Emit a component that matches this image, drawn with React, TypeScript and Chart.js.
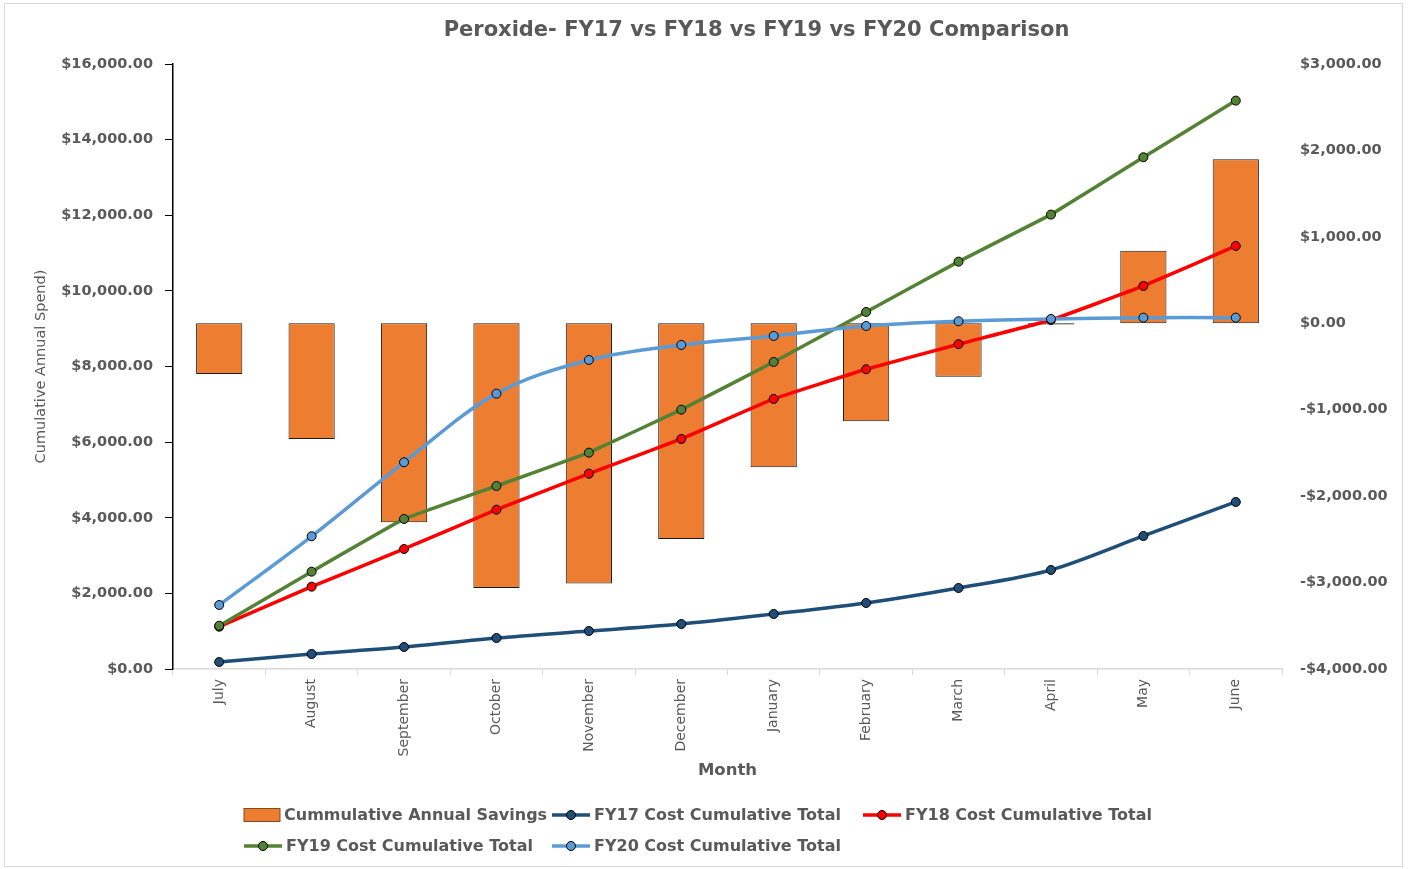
import React, { useEffect, useRef } from "react";
import { Chart, registerables } from "chart.js";

Chart.register(...registerables);

const TITLE = "Peroxide- FY17 vs FY18 vs FY19 vs FY20 Comparison";
const Y_TITLE = "Cumulative Annual Spend)";
const X_TITLE = "Month";

const months = [
  "July", "August", "September", "October", "November", "December",
  "January", "February", "March", "April", "May", "June",
];
const savings = [-587, -1339, -2303, -3064, -3012, -2497, -1667, -1134, -618, -15, 840, 1898];
const fy17 = [185, 397, 582, 820, 1005, 1190, 1455, 1746, 2142, 2619, 3518, 4417];
const fy18 = [1119, 2177, 3174, 4214, 5166, 6084, 7142, 7927, 8590, 9230, 10130, 11188];
const fy19 = [1145, 2574, 3968, 4840, 5721, 6859, 8120, 9443, 10773, 12017, 13534, 15032];
const fy20 = [1693, 3510, 5467, 7282, 8173, 8570, 8808, 9072, 9197, 9257, 9292, 9292];

const leftTicks = [0, 2000, 4000, 6000, 8000, 10000, 12000, 14000, 16000];
const rightTicks = [-4000, -3000, -2000, -1000, 0, 1000, 2000, 3000];

const seriesNames = [
  "Cummulative Annual Savings",
  "FY17 Cost Cumulative Total",
  "FY18 Cost Cumulative Total",
  "FY19 Cost Cumulative Total",
  "FY20 Cost Cumulative Total",
];
const seriesColors = ["#ED7D31", "#1F4E79", "#FF0000", "#548235", "#5B9BD5"];

const FONT = "'DejaVu Sans'";
const TEXT = "#595959";

const money = (v: number) => {
  const s = Math.abs(v).toLocaleString("en-US", { minimumFractionDigits: 2, maximumFractionDigits: 2 });
  return (v < 0 ? "-$" : "$") + s;
};

const titlePlugin = {
  id: "customTitle",
  afterDraw(chart: any) {
    const { ctx, chartArea } = chart;
    ctx.save();
    ctx.font = `bold 21px ${FONT}`;
    ctx.fillStyle = TEXT;
    ctx.textAlign = "center";
    ctx.textBaseline = "middle";
    ctx.fillText(TITLE, (chartArea.left + chartArea.right) / 2 + 29, 27);
    ctx.restore();
  },
};

function LegendIcon({ index }: { index: number }) {
  const c = seriesColors[index];
  if (index === 0) {
    return (
      <svg width="38" height="16" style={{ display: "block" }}>
        <rect x="1" y="1.5" width="36" height="13" fill={c} stroke="#7f4a25" strokeWidth="1" />
      </svg>
    );
  }
  return (
    <svg width="40" height="16" style={{ display: "block" }}>
      <line x1="1" y1="8" x2="39" y2="8" stroke={c} strokeWidth="3.5" />
      <circle cx="20" cy="8" r="4.5" fill={c} stroke="#000" strokeWidth="1" />
    </svg>
  );
}

export default function App() {
  const canvasRef = useRef<HTMLCanvasElement | null>(null);

  useEffect(() => {
    if (!canvasRef.current) return;
    const lineDs = (label: string, data: number[], color: string, order: number, tension: number) => ({
      type: "line" as const,
      label,
      data,
      yAxisID: "y",
      borderColor: color,
      backgroundColor: color,
      borderWidth: 3.5,
      pointRadius: 4.5,
      pointHoverRadius: 4.5,
      pointBackgroundColor: color,
      pointBorderColor: "#000",
      pointBorderWidth: 1,
      tension,
      fill: false,
      order,
    });

    const chart = new Chart(canvasRef.current, {
      type: "bar",
      data: {
        labels: months,
        datasets: [
          {
            type: "bar" as const,
            label: seriesNames[0],
            data: savings,
            yAxisID: "y1",
            backgroundColor: seriesColors[0],
            borderColor: "#1a1a1a",
            borderWidth: 1,
            borderSkipped: false,
            barPercentage: 0.5,
            categoryPercentage: 1.0,
            order: 10,
          } as any,
          lineDs(seriesNames[1], fy17, seriesColors[1], 4, 0.3),
          lineDs(seriesNames[2], fy18, seriesColors[2], 3, 0.1),
          lineDs(seriesNames[3], fy19, seriesColors[3], 2, 0.05),
          lineDs(seriesNames[4], fy20, seriesColors[4], 1, 0.35),
        ],
      },
      options: {
        animation: false,
        responsive: false,
        maintainAspectRatio: false,
        layout: { padding: { top: 60, left: 0, right: 0, bottom: 85 } },
        plugins: {
          legend: { display: false },
          title: { display: false },
          tooltip: { enabled: false },
        },
        scales: {
          x: {
            offset: true,
            grid: {
              display: true,
              drawOnChartArea: false,
              offset: true,
              color: "#d9d9d9",
              tickLength: 6,
            },
            border: { display: true, color: "#d9d9d9", width: 1.5 },
            ticks: {
              color: TEXT,
              font: { family: FONT, size: 14 },
              minRotation: 90,
              maxRotation: 90,
              padding: 4,
              autoSkip: false,
            },
            title: {
              display: true,
              text: X_TITLE,
              color: TEXT,
              font: { family: FONT, size: 16.5, weight: "bold" },
              padding: { top: 0, bottom: 0 },
            },
            afterFit: (s: any) => {
              s.height = 112;
            },
          },
          y: {
            position: "left",
            min: 0,
            max: 16000,
            afterBuildTicks: (s: any) => {
              s.ticks = leftTicks.map((v) => ({ value: v }));
            },
            grid: {
              display: true,
              drawOnChartArea: false,
              color: "#000",
              tickLength: 8,
            },
            border: { display: true, color: "#000", width: 1.5 },
            ticks: {
              color: TEXT,
              font: { family: FONT, size: 14.5, weight: "bold" },
              padding: 12,
              callback: (v: any) => money(Number(v)),
            },
            title: {
              display: true,
              text: Y_TITLE,
              color: TEXT,
              font: { family: FONT, size: 14.5 },
              padding: { top: 28, bottom: 0 },
            },
            afterFit: (s: any) => {
              s.width = 168;
            },
          },
          y1: {
            position: "right",
            min: -4000,
            max: 3000,
            afterBuildTicks: (s: any) => {
              s.ticks = rightTicks.map((v) => ({ value: v }));
            },
            grid: { display: false, drawOnChartArea: false, drawTicks: false },
            border: { display: false },
            ticks: {
              color: TEXT,
              font: { family: FONT, size: 14.5, weight: "bold" },
              padding: 18,
              callback: (v: any) => money(Number(v)),
            },
            afterFit: (s: any) => {
              s.width = 120;
            },
          },
        },
      } as any,
      plugins: [titlePlugin],
    });
    return () => chart.destroy();
  }, []);

  const colOffsets = [0, 308, 619];
  const rowHeight = 31;

  return (
    <div
      style={{
        position: "absolute",
        left: 4,
        top: 3,
        width: 1399,
        height: 864,
        boxSizing: "border-box",
        border: "1px solid #d9d9d9",
        background: "#fff",
      }}
    >
      <div style={{ position: "relative", width: 1397, height: 862 }}>
        <canvas ref={canvasRef} width={1397} height={862} style={{ display: "block" }} />
        {seriesNames.map((name, i) => (
          <div
            key={name}
            style={{
              position: "absolute",
              left: 238 + colOffsets[i % 3],
              top: 802 + Math.floor(i / 3) * rowHeight,
              display: "flex",
              alignItems: "center",
              gap: 3,
              fontFamily: FONT,
              fontWeight: "bold",
              fontSize: 16,
              color: TEXT,
              whiteSpace: "nowrap",
              lineHeight: "18px",
            }}
          >
            <LegendIcon index={i} />
            <span>{name}</span>
          </div>
        ))}
      </div>
    </div>
  );
}
